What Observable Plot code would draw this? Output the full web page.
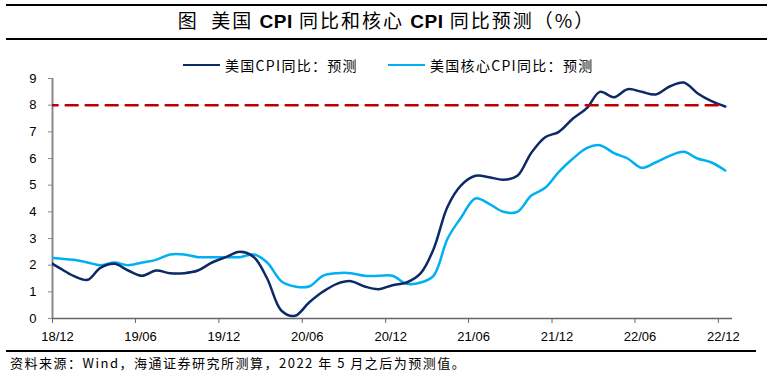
<!DOCTYPE html>
<html><head><meta charset="utf-8">
<script src="https://cdn.jsdelivr.net/npm/d3@7"></script>
<script src="https://cdn.jsdelivr.net/npm/@observablehq/plot@0.6"></script>
<style>
body{margin:0;width:773px;height:376px;position:relative;background:#fff;font-family:"Noto Sans CJK SC","Liberation Sans",sans-serif;overflow:hidden;color:#000}
.hr{position:absolute;left:6px;width:761px;height:1.5px;background:#000}
#title{position:absolute;top:8px;left:0;width:773px;text-align:center;font-size:19px;line-height:24px;white-space:nowrap;letter-spacing:2px}
#title b{font-family:"Liberation Sans",Arial,sans-serif;font-weight:bold;letter-spacing:0.5px}
.lg{position:absolute;top:57px;height:16px;display:flex;align-items:center;font-size:14px;line-height:16px;white-space:nowrap;letter-spacing:1.3px}
.lg span.sw{display:inline-block;width:37px;height:2.5px;margin-right:5px}
#chart{position:absolute;top:72px;left:0}
#footer{position:absolute;left:10px;top:355px;font-size:13px;line-height:16px;white-space:nowrap;letter-spacing:1.5px}
</style></head>
<body>
<div class="hr" style="top:4px"></div>
<div id="title">图&nbsp; 美国 <b>CPI</b> 同比和核心 <b>CPI</b> 同比预测（%）</div>
<div class="hr" style="top:38px"></div>
<div id="legend"></div>
<div id="chart"></div>
<div class="hr" style="top:350px;width:750px"></div>
<div id="footer">资料来源：Wind，海通证券研究所测算，2022 年 5 月之后为预测值。</div>
<script>
// ---- data ----
const months = ["2018-11","2018-12",
 "2019-01","2019-02","2019-03","2019-04","2019-05","2019-06","2019-07","2019-08","2019-09","2019-10","2019-11","2019-12",
 "2020-01","2020-02","2020-03","2020-04","2020-05","2020-06","2020-07","2020-08","2020-09","2020-10","2020-11","2020-12",
 "2021-01","2021-02","2021-03","2021-04","2021-05","2021-06","2021-07","2021-08","2021-09","2021-10","2021-11","2021-12",
 "2022-01","2022-02","2022-03","2022-04","2022-05","2022-06","2022-07","2022-08","2022-09","2022-10","2022-11","2022-12"];
const cpi = [2.2,1.9,
 1.6,1.45,1.9,2.05,1.8,1.6,1.8,1.7,1.7,1.8,2.1,2.3,
 2.5,2.3,1.5,0.3,0.1,0.6,1.0,1.3,1.4,1.2,1.1,1.25,
 1.35,1.7,2.6,4.2,5.0,5.35,5.3,5.2,5.35,6.2,6.8,7.0,
 7.5,7.9,8.5,8.3,8.6,8.5,8.4,8.7,8.85,8.45,8.15,7.95];
const core = [2.3,2.25,
 2.2,2.1,2.0,2.1,2.0,2.1,2.2,2.4,2.4,2.3,2.3,2.3,
 2.3,2.4,2.1,1.4,1.2,1.2,1.6,1.7,1.7,1.6,1.6,1.6,
 1.3,1.35,1.6,3.0,3.8,4.5,4.3,4.0,4.0,4.6,4.9,5.5,
 6.0,6.4,6.5,6.2,6.0,5.65,5.85,6.1,6.25,6.0,5.85,5.55];
const threshold = 8;
const xTickLabels = ["18/12","19/06","19/12","20/06","20/12","21/06","21/12","22/06","22/12"];
const yTicks = [0,1,2,3,4,5,6,7,8,9];
const seriesNames = ["美国CPI同比：预测","美国核心CPI同比：预测"];
const colors = ["#0c2a66","#00b0f0"];
const refColor = "#c00000";

// ---- build ----
const parseM = d3.utcParse("%Y-%m");
const parseT = d3.utcParse("%y/%m");
const fmtT = d3.utcFormat("%y/%m");
const data = months.map((m,i)=>({date: d3.utcDay.offset(parseM(m), 15), cpi: cpi[i], core: core[i], ref: threshold}));
const tickDates = xTickLabels.map(parseT);
const xDomain = [parseT("18/12"), parseT("23/01")];

// legend
const lg = document.getElementById("legend");
[183, 388].forEach((left,i)=>{
  const d = document.createElement("div");
  d.className = "lg"; d.style.left = left+"px";
  d.innerHTML = `<span class="sw" style="background:${colors[i]}"></span>${seriesNames[i]}`;
  lg.appendChild(d);
});

const chart = Plot.plot({
  width: 773, height: 272,
  marginLeft: 52, marginRight: 41, marginTop: 6, marginBottom: 26,
  style: {fontFamily: "'Liberation Sans', Arial, sans-serif", fontSize: "13px", color: "#000", background: "transparent", overflow: "visible"},
  x: {type: "utc", domain: xDomain, axis: null},
  y: {domain: [0, 9], axis: null},
  marks: [
    Plot.axisY(yTicks, {tickSize: 4, tickPadding: 12, stroke: "#888", fill: "#000", label: null, fontSize: 13}),
    Plot.axisX(tickDates, {tickSize: 5, tickFormat: () => "", stroke: "#666", label: null}),
    Plot.axisX(tickDates, {tickSize: 0, tickPadding: 13, tickFormat: fmtT, dx: 5, fill: "#000", label: null, fontSize: 13}),
    Plot.ruleY([0], {stroke: "#666", strokeWidth: 1.5}),
    Plot.ruleX([xDomain[0]], {stroke: "#888", strokeWidth: 2}),
    Plot.line(data, {x: "date", y: "core", stroke: colors[1], strokeWidth: 2.5, curve: "catmull-rom", clip: true}),
    Plot.line(data, {x: "date", y: "cpi", stroke: colors[0], strokeWidth: 2.5, curve: "catmull-rom", clip: true}),
    Plot.line(data, {x: "date", y: "ref", stroke: refColor, strokeWidth: 2.5, strokeDasharray: "12,8", clip: true})
  ]
});
document.getElementById("chart").appendChild(chart);
</script>
</body></html>
